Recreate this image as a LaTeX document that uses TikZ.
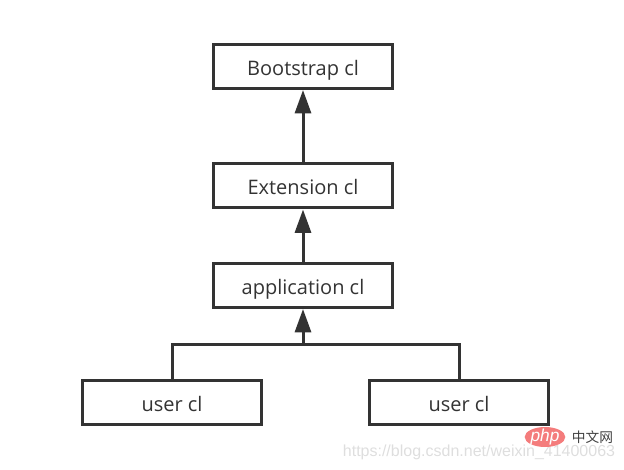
\documentclass[tikz,border=0pt]{standalone}
\usepackage{fontspec}
\setmainfont{Open Sans}
\newfontfamily\markfont{Liberation Sans}
\newfontfamily\cjkfont{Noto Sans CJK SC}
\usetikzlibrary{arrows.meta,shapes.geometric}
\definecolor{linegray}{HTML}{333333}
\definecolor{phpred}{HTML}{F47C7C}
\tikzset{
    classbox/.style={draw=linegray, line width=2.25pt, minimum width=134pt, minimum height=33pt, inner sep=0pt, text height=13pt, text depth=0pt, text=linegray, font=\fontsize{15}{17}\selectfont},
    link/.style={draw=linegray, line width=2.25pt},
    uplink/.style={link, -{Triangle[length=17.5pt,width=12pt]}},
}
\begin{document}
\begin{tikzpicture}[x=0.75pt,y=-0.75pt]
    \useasboundingbox (0,0) rectangle (624,470);

    \node[classbox] (bootstrap) at (303,66.5)  {Bootstrap cl};
    \node[classbox] (extension) at (303,186)   {Extension cl};
    \node[classbox] (application) at (303,285.5) {application cl};
    \node[classbox] (userleft) at (172,402.5)  {user cl};
    \node[classbox] (userright) at (459,402.5) {user cl};

    \coordinate (join) at (303,344);

    \draw[uplink] (extension) -- (bootstrap);
    \draw[uplink] (application) -- (extension);
    \draw[uplink] (join) -- (application);
    \draw[link] (userleft.north) |- (join);
    \draw[link] (userright.north) |- (join);

    % watermark
    \node[font=\markfont\fontsize{12}{14}\selectfont, text=black!13, inner sep=0pt] (url) at (479,452) {https://blog.csdn.net/weixin\_41400063};
    \node[ellipse, fill=phpred, minimum width=30.5pt, minimum height=15pt, inner sep=-3pt, text=white, font=\markfont\itshape\fontsize{13}{15}\selectfont] (php) at (545,437) {php};
    \node[font=\cjkfont\fontsize{10.3}{12}\selectfont, text=black!75, inner sep=0pt] (cn) at (592.5,437) {中文网};
\end{tikzpicture}
\end{document}
